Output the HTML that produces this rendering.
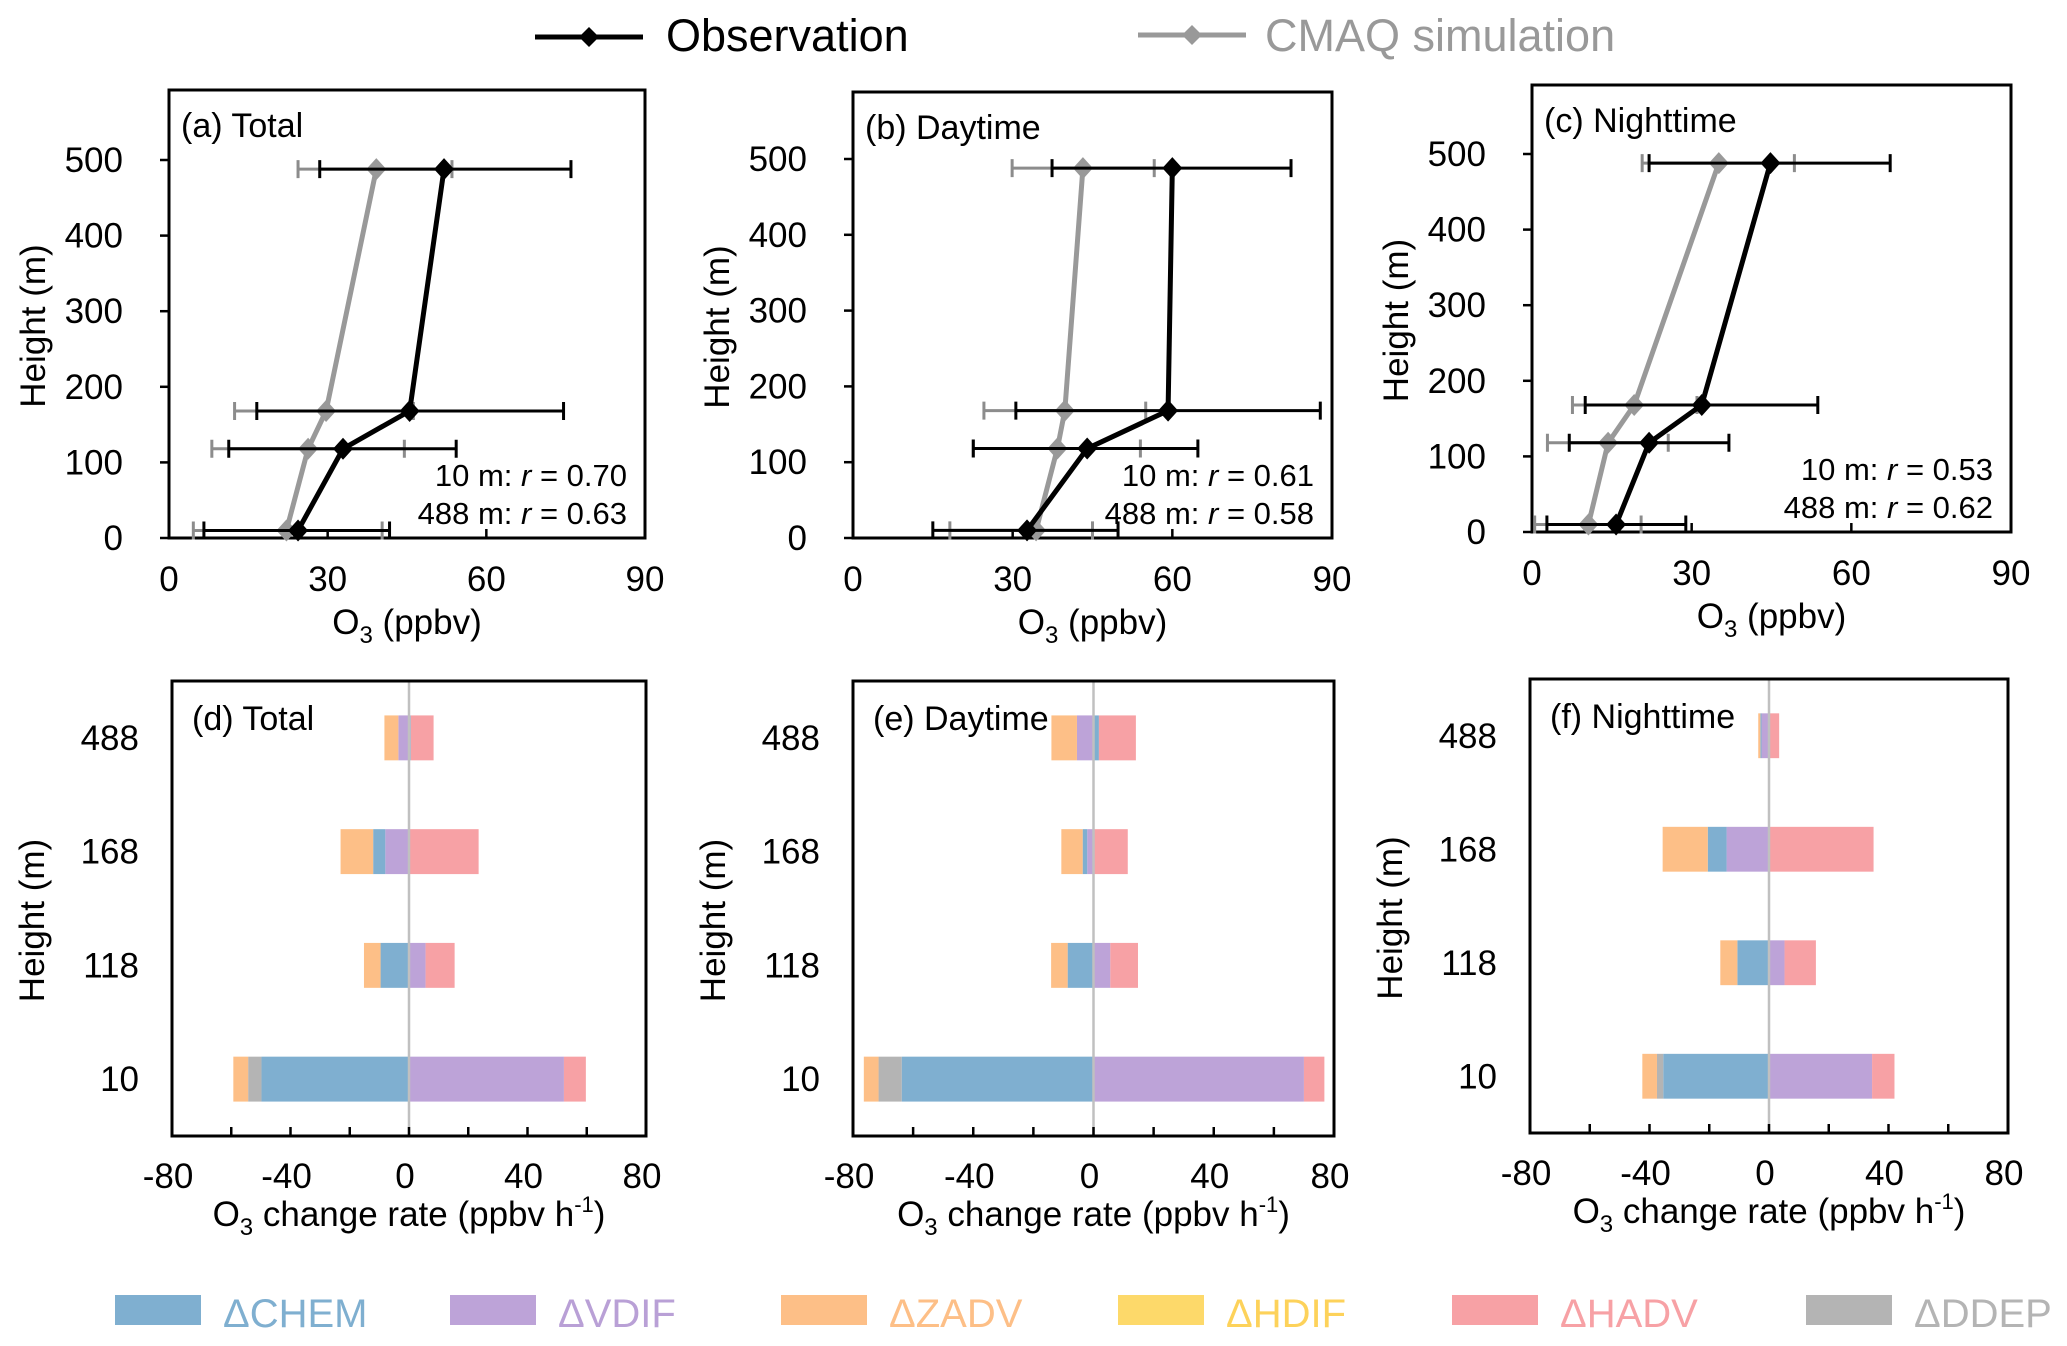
<!DOCTYPE html>
<html><head><meta charset="utf-8">
<style>
html,body{margin:0;padding:0;background:#fff;}
svg{display:block;font-family:"Liberation Sans",Arial,sans-serif;}
</style></head>
<body>
<svg id="fig" width="2067" height="1346" viewBox="0 0 2067 1346" xmlns="http://www.w3.org/2000/svg">
  <g>
    <line x1="535" y1="37" x2="643" y2="37" stroke="#000" stroke-width="5"/>
    <path d="M589 27 L599 37 L589 47 L579 37 Z" fill="#000"/>
    <text x="666" y="51" font-size="45" fill="#000">Observation</text>
    <line x1="1138" y1="35" x2="1246" y2="35" stroke="#999" stroke-width="5"/>
    <path d="M1192 25 L1202 35 L1192 45 L1182 35 Z" fill="#999"/>
    <text x="1265" y="51" font-size="45" fill="#999">CMAQ simulation</text>
  </g>
</svg>
<script>
// ---------- data: vertical profiles ----------
const heights = [10, 118, 168, 488];
const obsA = [24.4, 32.9, 45.5, 52.0];
const obsLoA = [6.6, 11.3, 16.6, 28.5];
const obsHiA = [41.7, 54.3, 74.6, 76.0];
const simA = [22.2, 26.3, 29.7, 39.2];
const simLoA = [4.6, 8.1, 12.4, 24.4];
const simHiA = [40.3, 44.5, 46.2, 53.5];

const obsB = [32.7, 44.0, 59.2, 60.0];
const obsLoB = [15.0, 22.6, 30.6, 37.4];
const obsHiB = [49.8, 64.8, 87.8, 82.3];
const simB = [34.4, 38.4, 39.8, 43.2];
const simLoB = [18.2, 22.6, 24.6, 29.9];
const simHiB = [45.0, 54.0, 55.0, 56.6];

const obsC = [15.8, 22.0, 31.9, 44.8];
const obsLoC = [2.8, 7.0, 10.0, 22.0];
const obsHiC = [28.9, 37.0, 53.7, 67.3];
const simC = [10.6, 14.3, 19.2, 35.1];
const simLoC = [0.5, 2.9, 7.6, 20.7];
const simHiC = [20.5, 25.6, 31.0, 49.3];

const xTicksTop = [0, 30, 60, 90];
const yTicksTop = [0, 100, 200, 300, 400, 500];
const rTexts = [["0.70", "0.63"], ["0.61", "0.58"], ["0.53", "0.62"]];
const topTitles = ["(a) Total", "(b) Daytime", "(c) Nighttime"];

// ---------- data: process contributions (ppbv/h) ----------
const barCats = ["10", "118", "168", "488"];
const procNames = ["VDIF", "CHEM", "DDEP", "ZADV", "HDIF", "HADV"];
// each array: values per category [10,118,168,488]
const vdifD = [52.3, 5.6, -8.0, -3.6];
const chemD = [-49.8, -9.6, -4.1, 0.6];
const ddepD = [-4.5, 0, 0, 0];
const zadvD = [-5.0, -5.6, -11.0, -4.7];
const hdifD = [0, 0, 0, 0];
const hadvD = [7.4, 9.8, 23.5, 7.7];

const vdifE = [70.0, 5.6, -2.1, -5.5];
const chemE = [-63.8, -8.6, -1.5, 1.8];
const ddepE = [-7.7, 0, 0, 0];
const zadvE = [-4.9, -5.5, -7.1, -8.5];
const hdifE = [0, 0, 0, 0];
const hadvE = [6.8, 9.2, 11.4, 12.3];

const vdifF = [34.5, 5.2, -14.2, -2.5];
const chemF = [-35.4, -10.6, -6.3, -0.4];
const ddepF = [-2.1, 0, 0, 0];
const zadvF = [-4.9, -5.7, -15.1, -0.7];
const hdifF = [0, 0, 0, 0];
const hadvF = [7.5, 10.5, 35.0, 3.4];

const xTicksBar = [-80, -40, 0, 40, 80];
const barTitles = ["(d) Total", "(e) Daytime", "(f) Nighttime"];
const legendNames = ["\u0394CHEM", "\u0394VDIF", "\u0394ZADV", "\u0394HDIF", "\u0394HADV", "\u0394DDEP"];
const legendKeys = ["CHEM", "VDIF", "ZADV", "HDIF", "HADV", "DDEP"];

const colors = {CHEM:"#7fafd0", VDIF:"#bda3d8", ZADV:"#fdbf87", HDIF:"#fdd96a", HADV:"#f7a1a5", DDEP:"#b4b4b4"};
const legendTextColors = {CHEM:"#7fafd0", VDIF:"#b9a0d6", ZADV:"#fdbf87", HDIF:"#fdd25a", HADV:"#f7a1a5", DDEP:"#b4b4b4"};

const NS = "http://www.w3.org/2000/svg";
const svg = document.getElementById("fig");
function mk(tag, attrs, parent) {
  const e = document.createElementNS(NS, tag);
  for (const k in attrs) e.setAttribute(k, attrs[k]);
  (parent || svg).appendChild(e);
  return e;
}
function txt(parent, x, y, s, size, anchor, fill) {
  const t = mk("text", {x: x, y: y, "font-size": size, "text-anchor": anchor || "start", fill: fill || "#000"}, parent);
  t.textContent = s;
  return t;
}

// ---------- top panels ----------
const topPanels = [
  {L:169, R:645, T:90, B:538, y500:160, obs:obsA, oLo:obsLoA, oHi:obsHiA, sim:simA, sLo:simLoA, sHi:simHiA},
  {L:853, R:1332, T:92, B:538, y500:159, obs:obsB, oLo:obsLoB, oHi:obsHiB, sim:simB, sLo:simLoB, sHi:simHiB},
  {L:1532, R:2011, T:85, B:532, y500:154, obs:obsC, oLo:obsLoC, oHi:obsHiC, sim:simC, sLo:simLoC, sHi:simHiC}
];
topPanels.forEach((p, i) => {
  const g = mk("g", {});
  
  
  const xs = v => p.L + (v / 90) * (p.R - p.L);
  const ys = h => p.B - (h / 500) * (p.B - p.y500);
  mk("rect", {x:p.L, y:p.T, width:p.R-p.L, height:p.B-p.T, fill:"none", stroke:"#000", "stroke-width":3}, g);
  // ticks
  yTicksTop.forEach(t => {
    mk("line", {x1:p.L-9, x2:p.L, y1:ys(t), y2:ys(t), stroke:"#000", "stroke-width":2.5}, g);
    const tl = txt(g, p.L-46, ys(t)+12, String(t), 35, "end");
    
    
  });
  xTicksTop.forEach(t => {
    if (t > 0 && t < 90) mk("line", {x1:xs(t), x2:xs(t), y1:p.B, y2:p.B-9, stroke:"#000", "stroke-width":2.5}, g);
    const tl = txt(g, xs(t), p.B+53, String(t), 35, "middle");
    
    
  });
  // axis titles
  const cx = (p.L + p.R) / 2;
  const xt = mk("text", {x:cx, y:p.B+96, "font-size":35, "text-anchor":"middle"}, g);
  xt.innerHTML = 'O<tspan font-size="24" dy="9">3</tspan><tspan dy="-9"> (ppbv)</tspan>';
  
  
  const cy = (p.T + p.B) / 2 + 12;
  const yt = mk("text", {x:0, y:0, "font-size":35, "text-anchor":"middle", transform:`translate(${p.L-124},${cy}) rotate(-90)`}, g);
  yt.textContent = "Height (m)";
  
  
  // panel label
  const pl = txt(g, p.L+12, p.T+47, topTitles[i], 34);
  
  
  // r annotations
  const r1 = mk("text", {x:p.R-18, y:p.B-52, "font-size":31, "text-anchor":"end"}, g);
  r1.innerHTML = '10 m: <tspan font-style="italic">r</tspan> = ' + rTexts[i][0];
  
  
  const r2 = mk("text", {x:p.R-18, y:p.B-14, "font-size":31, "text-anchor":"end"}, g);
  r2.innerHTML = '488 m: <tspan font-style="italic">r</tspan> = ' + rTexts[i][1];
  
  
  // series
  const series = [
    {v:p.sim, lo:p.sLo, hi:p.sHi, col:"#999", ecol:"#8c8c8c", name:"cmaq"},
    {v:p.obs, lo:p.oLo, hi:p.oHi, col:"#000", ecol:"#000", name:"observation"}
  ];
  series.forEach(s => {
    const sg = mk("g", {}, g);
    
    
    heights.forEach((h, k) => {
      const y = ys(h);
      const eb = mk("path", {d:`M${xs(s.lo[k])} ${y} H${xs(s.hi[k])} M${xs(s.lo[k])} ${y-9} V${y+9} M${xs(s.hi[k])} ${y-9} V${y+9}`, stroke:s.ecol, "stroke-width":3, fill:"none"}, sg);
      
      
    });
    const pts = heights.map((h, k) => `${xs(s.v[k])},${ys(h)}`).join(" ");
    const ln = mk("polyline", {points:pts, fill:"none", stroke:s.col, "stroke-width":5, "stroke-linejoin":"round"}, sg);
    
    
    heights.forEach((h, k) => {
      const x = xs(s.v[k]), y = ys(h);
      const m = mk("path", {d:`M${x} ${y-11} L${x+10} ${y} L${x} ${y+11} L${x-10} ${y} Z`, fill:s.col}, sg);
      
      
    });
  });
});

// ---------- bottom panels ----------
const barPanels = [
  {L:172, R:646, T:681, B:1136, d:{VDIF:vdifD, CHEM:chemD, DDEP:ddepD, ZADV:zadvD, HDIF:hdifD, HADV:hadvD}},
  {L:853, R:1334, T:681, B:1136, d:{VDIF:vdifE, CHEM:chemE, DDEP:ddepE, ZADV:zadvE, HDIF:hdifE, HADV:hadvE}},
  {L:1530, R:2008, T:679, B:1133, d:{VDIF:vdifF, CHEM:chemF, DDEP:ddepF, ZADV:zadvF, HDIF:hdifF, HADV:hadvF}}
];
barPanels.forEach((p, i) => {
  const g = mk("g", {});
  
  
  const xs = v => p.L + ((v + 80) / 160) * (p.R - p.L);
  const band = (p.B - p.T) / barCats.length;
  const yc = k => p.B - band * (k + 0.5);
  const bh = band * 0.395;
  // bars
  barCats.forEach((c, k) => {
    let pos = 0, neg = 0;
    procNames.forEach(pn => {
      const v = p.d[pn][k];
      if (!v) return;
      let x0, x1;
      if (v > 0) { x0 = xs(pos); pos += v; x1 = xs(pos); }
      else { x1 = xs(neg); neg += v; x0 = xs(neg); }
      const r = mk("rect", {x:x0, y:yc(k)-bh/2, width:Math.max(0.5, x1-x0), height:bh, fill:colors[pn]}, g);
      
      
    });
    const tl = txt(g, p.L-33, yc(k)+12, c, 35, "end");
    
    
  });
  mk("line", {x1:xs(0), x2:xs(0), y1:p.T, y2:p.B, stroke:"#c0c0c0", "stroke-width":2.5}, g);
  mk("rect", {x:p.L, y:p.T, width:p.R-p.L, height:p.B-p.T, fill:"none", stroke:"#000", "stroke-width":3}, g);
  for (let t = -60; t <= 60; t += 20) {
    mk("line", {x1:xs(t), x2:xs(t), y1:p.B, y2:p.B-9, stroke:"#000", "stroke-width":2.5}, g);
  }
  xTicksBar.forEach(t => {
    const tl = txt(g, xs(t)-4, p.B+52, String(t), 35, "middle");
    
    
  });
  const cx = (p.L + p.R) / 2;
  const xt = mk("text", {x:cx, y:p.B+90, "font-size":35, "text-anchor":"middle"}, g);
  xt.innerHTML = 'O<tspan font-size="24" dy="9">3</tspan><tspan dy="-9"> change rate (ppbv h</tspan><tspan font-size="22" dy="-14">-1</tspan><tspan dy="14">)</tspan>';
  
  
  const cy = (p.T + p.B) / 2 + 12;
  const yt = mk("text", {x:0, y:0, "font-size":35, "text-anchor":"middle", transform:`translate(${p.L-128},${cy}) rotate(-90)`}, g);
  yt.textContent = "Height (m)";
  
  
  const pl = txt(g, p.L+20, p.T+49, barTitles[i], 34);
  
  
});

// ---------- bottom legend ----------
const legX = [115, 450, 781, 1118, 1452, 1806];
legendKeys.forEach((k, i) => {
  const g = mk("g", {});
  
  
  mk("rect", {x:legX[i], y:1295, width:86, height:30, fill:colors[k]}, g);
  txt(g, legX[i]+108, 1327, legendNames[i], 40, "start", legendTextColors[k]);
});
</script>
</body></html>
